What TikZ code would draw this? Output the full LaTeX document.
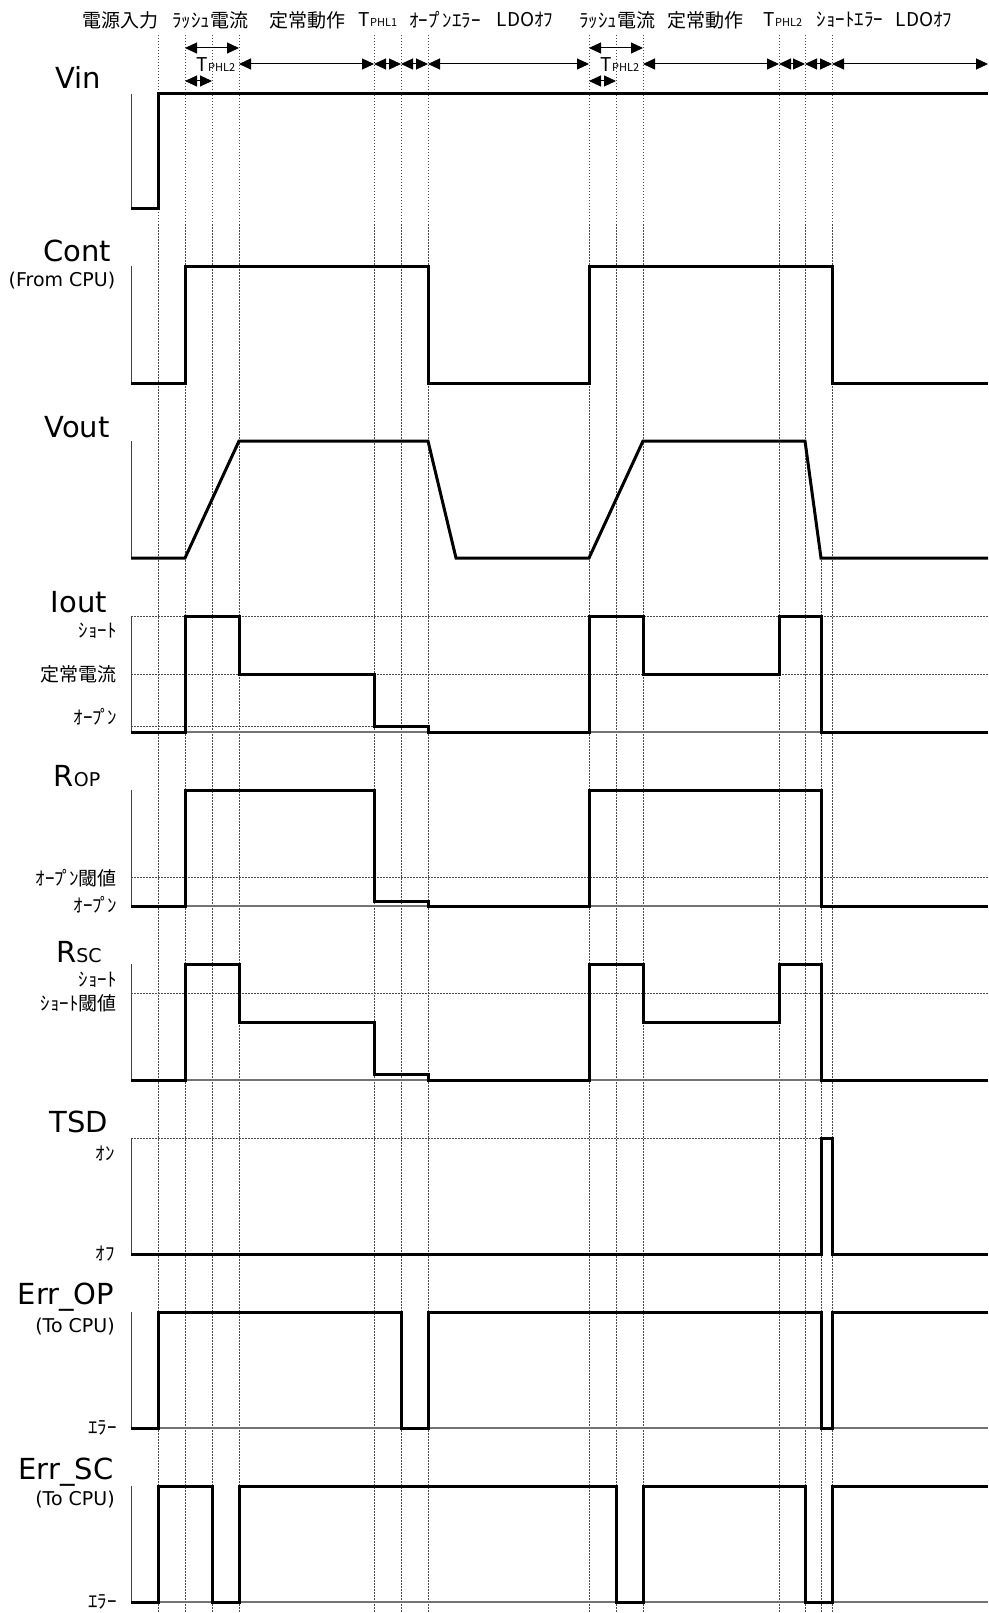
\documentclass[tikz,border=0pt]{standalone}
\usepackage{fontspec}
\setmainfont{DejaVu Sans}
\newfontfamily\jp{Noto Sans CJK JP}
\usetikzlibrary{arrows.meta}

\tikzset{
  wave/.style={line width=3pt, line join=miter},
  axisline/.style={line width=1pt, black!75},
  baseline/.style={line width=1.2pt, black!55},
  guide/.style={line width=0.9pt, black!70, dash pattern=on 1.5pt off 1.5pt},
  span/.style={line width=1pt, {Triangle[length=12pt,width=11pt]}-{Triangle[length=12pt,width=11pt]}},
  signame/.style={font=\fontsize{29}{29}\selectfont, inner sep=0pt},
  sigsub/.style={font=\fontsize{19}{19}\selectfont, inner sep=0pt},
  level/.style={font=\jp\fontsize{19}{19}\selectfont, inner sep=0pt, anchor=east},
  phase/.style={font=\jp\fontsize{19}{19}\selectfont, inner sep=0pt},
}
\newcommand{\tphl}[1]{T{\fontsize{11}{11}\selectfont PHL#1}}
\newcommand{\smallcap}[1]{{\fontsize{19}{19}\selectfont #1}}
\newcommand{\opn}{ｵｰﾌ\kern-0.12emﾟ\kern-0.12emﾝ}

\begin{document}
\begin{tikzpicture}[x=1pt,y=-1pt]
  \useasboundingbox (0,0) rectangle (988,1613);
  % time marks
  \coordinate (t2) at (185,0);
  \coordinate (t3) at (212,0);
  \coordinate (t4) at (239,0);
  \coordinate (t5) at (374,0);
  \coordinate (t6) at (401,0);
  \coordinate (t7) at (428,0);
  \coordinate (t8) at (589,0);
  \coordinate (t9) at (616,0);
  \coordinate (t10) at (643,0);
  \coordinate (t11) at (779,0);
  \coordinate (t12) at (805,0);
  \coordinate (t14) at (832,0);
  \coordinate (tE) at (988,0);
  \coordinate (r1) at (0,48);
  \coordinate (r2) at (0,64);
  \coordinate (r3) at (0,81);

  % vertical guides
  \foreach \x in {158,185,212,239,374,401,428,589,616,643,779,805,832}
    \draw[guide] (\x,35) -- (\x,1613);
  \draw[guide] (821,560) -- (821,1613);

  % phase labels
  \node[phase] (p1) at (120,20) {電源入力};
  \node[phase] (p2) at (210,20) {ﾗｯｼｭ電流};
  \node[phase] (p3) at (307,20) {定常動作};
  \node[phase] (p4) at (378,20) {\tphl{1}};
  \node[phase] (p5) at (445,20) {\opn ｴﾗｰ};
  \node[phase] (p6) at (525,20) {LDOｵﾌ};
  \node[phase] (p7) at (617,20) {ﾗｯｼｭ電流};
  \node[phase] (p8) at (705,20) {定常動作};
  \node[phase] (p9) at (783,20) {\tphl{2}};
  \node[phase] (p10) at (850,20) {ｼｮｰﾄｴﾗｰ};
  \node[phase] (p11) at (924,20) {LDOｵﾌ};

  % time spans
  \draw[span] (t2|-r1) -- (t4|-r1);
  \draw[span] (t8|-r1) -- (t10|-r1);
  \draw[span] (t4|-r2) -- (t5|-r2);
  \draw[span] (t5|-r2) -- (t6|-r2);
  \draw[span] (t6|-r2) -- (t7|-r2);
  \draw[span] (t7|-r2) -- (t8|-r2);
  \draw[span] (t10|-r2) -- (t11|-r2);
  \draw[span] (t11|-r2) -- (t12|-r2);
  \draw[span] (t12|-r2) -- (t14|-r2);
  \draw[span] (t14|-r2) -- (tE|-r2);
  \draw[span] (t2|-r3) -- (t3|-r3);
  \draw[span] (t8|-r3) -- (t9|-r3);
  \node[phase] (d1) at (216,65) {\tphl{2}};
  \node[phase] (d2) at (620,65) {\tphl{2}};

  % level guides
  \draw[guide] (131,616) -- (988,616);
  \draw[guide] (131,674) -- (988,674);
  \draw[guide] (131,726) -- (374,726);
  \draw[guide] (131,877) -- (988,877);
  \draw[guide] (131,993) -- (988,993);
  \draw[guide] (131,1138) -- (821,1138);

  % axes and base lines
  \foreach \top/\bot in {94/209,266/383,441/558,616/732,790/906,964/1080,1138/1254,1312/1428,1486/1602}
    \draw[axisline] (131,\top) -- (131,\bot);
  \foreach \bot in {732,906,1080,1428,1602}
    \draw[baseline] (131,\bot) -- (988,\bot);

  % signal names
  \node[signame] (vin) at (78,77) {Vin};
  \node[signame] (cont) at (77,251) {Cont};
  \node[sigsub] (contsub) at (62,281) {(From CPU)};
  \node[signame] (vout) at (77,427) {Vout};
  \node[signame] (iout) at (79,602) {Iout};
  \node[signame] (rop) at (77,776) {R\smallcap{OP}};
  \node[signame] (rsc) at (79,952) {R\smallcap{SC}};
  \node[signame] (tsd) at (79,1122) {TSD};
  \node[signame] (errop) at (66,1297) {Err\_OP};
  \node[sigsub] (eropsub) at (75,1327) {(To CPU)};
  \node[signame] (errsc) at (66,1472) {Err\_SC};
  \node[sigsub] (ersc) at (75,1500) {(To CPU)};

  % level names
  \node[level] (l1) at (117,631) {ｼｮｰﾄ};
  \node[level] (l2) at (117,674) {定常電流};
  \node[level] (l3) at (117,717) {\opn};
  \node[level] (l4) at (117,878) {\opn 閾値};
  \node[level] (l5) at (117,905) {\opn};
  \node[level] (l6) at (117,980) {ｼｮｰﾄ};
  \node[level] (l7) at (117,1003) {ｼｮｰﾄ閾値};
  \node[level] (l8) at (115,1153) {ｵﾝ};
  \node[level] (l9) at (115,1254) {ｵﾌ};
  \node[level] (l10) at (117,1428) {ｴﾗｰ};
  \node[level] (l11) at (117,1602) {ｴﾗｰ};

  % Vin
  \draw[wave] (131,209) -- (158,209) -- (158,94) -- (988,94);
  % Cont
  \draw[wave] (131,383) -- (185,383) -- (185,266) -- (428,266) -- (428,383)
    -- (589,383) -- (589,266) -- (832,266) -- (832,383) -- (988,383);
  % Vout
  \draw[wave] (131,558) -- (185,558) -- (239,441) -- (428,441) -- (456,558)
    -- (589,558) -- (643,441) -- (805,441) -- (821,558) -- (988,558);
  % Iout
  \draw[wave] (131,732) -- (185,732) -- (185,616) -- (239,616) -- (239,674)
    -- (374,674) -- (374,726) -- (428,726) -- (428,732) -- (589,732)
    -- (589,616) -- (643,616) -- (643,674) -- (779,674) -- (779,616)
    -- (821,616) -- (821,732) -- (988,732);
  % R_OP
  \draw[wave] (131,906) -- (185,906) -- (185,790) -- (374,790) -- (374,901)
    -- (428,901) -- (428,906) -- (589,906) -- (589,790) -- (821,790)
    -- (821,906) -- (988,906);
  % R_SC
  \draw[wave] (131,1080) -- (185,1080) -- (185,964) -- (239,964) -- (239,1022)
    -- (374,1022) -- (374,1074) -- (428,1074) -- (428,1080) -- (589,1080)
    -- (589,964) -- (643,964) -- (643,1022) -- (779,1022) -- (779,964)
    -- (821,964) -- (821,1080) -- (988,1080);
  % TSD
  \draw[wave] (131,1254) -- (821,1254) -- (821,1138) -- (832,1138) -- (832,1254)
    -- (988,1254);
  % Err_OP
  \draw[wave] (131,1428) -- (158,1428) -- (158,1312) -- (401,1312) -- (401,1428)
    -- (428,1428) -- (428,1312) -- (821,1312) -- (821,1428) -- (832,1428)
    -- (832,1312) -- (988,1312);
  % Err_SC
  \draw[wave] (131,1602) -- (158,1602) -- (158,1486) -- (212,1486) -- (212,1602)
    -- (239,1602) -- (239,1486) -- (616,1486) -- (616,1602) -- (643,1602)
    -- (643,1486) -- (805,1486) -- (805,1602) -- (832,1602) -- (832,1486)
    -- (988,1486);
\end{tikzpicture}
\end{document}
